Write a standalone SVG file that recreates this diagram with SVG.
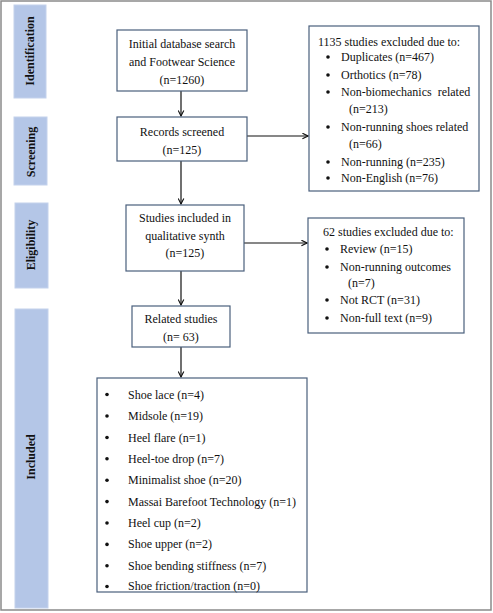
<svg xmlns="http://www.w3.org/2000/svg" width="493" height="613" viewBox="0 0 493 613">
<defs>
<style>
text{font-family:"Liberation Serif","Times New Roman",serif;font-size:12px;fill:#111}
.c{text-anchor:middle}
.lab{font-weight:bold;text-anchor:middle}
.box{fill:#fff;stroke:#4a5f7c;stroke-width:1.2}
.bar{fill:#b4c6e7;stroke:#c4d2ec;stroke-width:1}
.con{stroke:#111;stroke-width:1.2;fill:none}
</style>
<marker id="ah" viewBox="0 0 10 10" refX="9" refY="5" markerWidth="7" markerHeight="7" orient="auto" markerUnits="userSpaceOnUse">
<path d="M1,1 L9,5 L1,9" fill="none" stroke="#111" stroke-width="1.6"/>
</marker>
</defs>
<rect x="0" y="0" width="493" height="613" fill="#fff"/>
<rect x="1" y="1" width="490" height="609" fill="none" stroke="#8a8a8a" stroke-width="1.5"/>

<g id="stage-identification">
<rect class="bar" x="14" y="5" width="32" height="93"/>
<text class="lab" transform="translate(34,51) rotate(-90)">Identification</text>
</g>
<g id="stage-screening">
<rect class="bar" x="14" y="117" width="33" height="68"/>
<text class="lab" transform="translate(35,152) rotate(-90)">Screening</text>
</g>
<g id="stage-eligibility">
<rect class="bar" x="15" y="203" width="33" height="85"/>
<text class="lab" transform="translate(35,245) rotate(-90)">Eligibility</text>
</g>
<g id="stage-included">
<rect class="bar" x="15" y="309" width="33" height="299"/>
<text class="lab" transform="translate(35,457) rotate(-90)">Included</text>
</g>

<g id="connectors">
<line class="con" x1="181" y1="91" x2="181" y2="116" marker-end="url(#ah)"/>
<line class="con" x1="181" y1="161" x2="181" y2="204" marker-end="url(#ah)"/>
<line class="con" x1="181" y1="271" x2="181" y2="305" marker-end="url(#ah)"/>
<line class="con" x1="181" y1="347" x2="181" y2="377" marker-end="url(#ah)"/>
<line class="con" x1="247" y1="136" x2="308" y2="136" marker-end="url(#ah)"/>
<line class="con" x1="244" y1="243" x2="307" y2="243" marker-end="url(#ah)"/>
</g>

<g id="initial">
<rect class="box" x="117" y="30" width="130" height="61"/>
<text class="c" x="182" y="48">Initial database search</text>
<text class="c" x="182" y="66">and Footwear Science</text>
<text class="c" x="182" y="84">(n=1260)</text>
</g>
<g id="screened">
<rect class="box" x="117" y="117" width="130" height="44"/>
<text class="c" x="182" y="136">Records screened</text>
<text class="c" x="182" y="154">(n=125)</text>
</g>
<g id="qualitative">
<rect class="box" x="126" y="205" width="118" height="66"/>
<text class="c" x="185" y="222">Studies included in</text>
<text class="c" x="185" y="240">qualitative synth</text>
<text class="c" x="185" y="257">(n=125)</text>
</g>
<g id="related">
<rect class="box" x="132" y="306" width="98" height="41"/>
<text class="c" x="181" y="323">Related studies</text>
<text class="c" x="181" y="341">(n= 63)</text>
</g>

<g id="excluded1">
<rect class="box" x="309" y="26" width="170" height="165"/>
<text x="318" y="46">1135 studies excluded due to:</text>
<circle cx="328" cy="57" r="1.8" fill="#111"/><text x="341" y="61">Duplicates (n=467)</text>
<circle cx="328" cy="75" r="1.8" fill="#111"/><text x="341" y="79">Orthotics (n=78)</text>
<circle cx="328" cy="92" r="1.8" fill="#111"/><text x="341" y="96" xml:space="preserve">Non-biomechanics  related</text>
<text x="349" y="113">(n=213)</text>
<circle cx="328" cy="127" r="1.8" fill="#111"/><text x="341" y="131">Non-running shoes related</text>
<text x="349" y="148">(n=66)</text>
<circle cx="328" cy="162" r="1.8" fill="#111"/><text x="341" y="166">Non-running (n=235)</text>
<circle cx="328" cy="178" r="1.8" fill="#111"/><text x="341" y="182">Non-English (n=76)</text>
</g>

<g id="excluded2">
<rect class="box" x="308" y="218" width="156" height="115"/>
<text x="323" y="236">62 studies excluded due to:</text>
<circle cx="327" cy="249" r="1.8" fill="#111"/><text x="340" y="253">Review (n=15)</text>
<circle cx="327" cy="267" r="1.8" fill="#111"/><text x="340" y="271">Non-running outcomes</text>
<text x="348" y="287">(n=7)</text>
<circle cx="327" cy="300" r="1.8" fill="#111"/><text x="340" y="304">Not RCT (n=31)</text>
<circle cx="327" cy="318" r="1.8" fill="#111"/><text x="340" y="322">Non-full text (n=9)</text>
</g>

<g id="included">
<rect class="box" x="97" y="378" width="210" height="214"/>
<circle cx="107" cy="394.5" r="1.8" fill="#111"/><text x="128" y="398.5">Shoe lace (n=4)</text>
<circle cx="107" cy="416" r="1.8" fill="#111"/><text x="128" y="420">Midsole (n=19)</text>
<circle cx="107" cy="437.5" r="1.8" fill="#111"/><text x="128" y="441.5">Heel flare (n=1)</text>
<circle cx="107" cy="458.8" r="1.8" fill="#111"/><text x="128" y="462.8">Heel-toe drop (n=7)</text>
<circle cx="107" cy="480.2" r="1.8" fill="#111"/><text x="128" y="484.2">Minimalist shoe (n=20)</text>
<circle cx="107" cy="501.6" r="1.8" fill="#111"/><text x="128" y="505.6">Massai Barefoot Technology (n=1)</text>
<circle cx="107" cy="523" r="1.8" fill="#111"/><text x="128" y="527">Heel cup (n=2)</text>
<circle cx="107" cy="544.4" r="1.8" fill="#111"/><text x="128" y="548.4">Shoe upper (n=2)</text>
<circle cx="107" cy="565.8" r="1.8" fill="#111"/><text x="128" y="569.8">Shoe bending stiffness (n=7)</text>
<circle cx="107" cy="586.5" r="1.8" fill="#111"/><text x="128" y="590.2">Shoe friction/traction (n=0)</text>
</g>
</svg>
